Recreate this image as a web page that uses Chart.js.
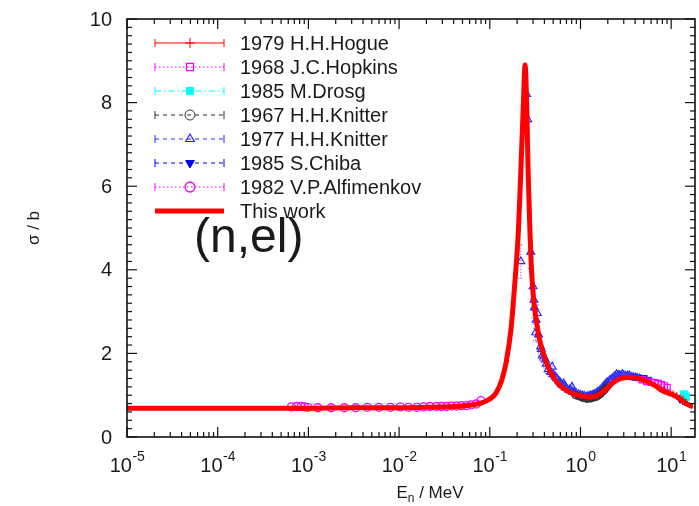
<!DOCTYPE html>
<html>
<head>
<meta charset="utf-8">
<script src="https://cdn.jsdelivr.net/npm/chart.js@4"></script>
<style>
  html, body { margin: 0; padding: 0; background: #fff; }
  #wrap { width: 699px; height: 506px; }
</style>
</head>
<body>
<div id="wrap"><canvas id="chart" width="699" height="506"></canvas></div>
<script>
// neutron energy in MeV, elastic cross section in barn

const thisWorkE = [1e-5, 1e-4, 1e-3, 3e-3, 1e-2, 0.02, 0.04, 0.06, 0.08, 0.1,
    0.117, 0.135, 0.151, 0.171, 0.19, 0.207, 0.222, 0.235, 0.245, 0.255,
    0.265, 0.277, 0.29, 0.307, 0.328, 0.348, 0.38, 0.411, 0.46, 0.528,
    0.62, 0.72, 0.875, 1.05, 1.22, 1.45, 1.7, 2.0, 2.39, 2.9,
    3.63, 4.5, 5.5, 6.53, 7.7, 9.0, 10.8, 13.0, 15.0, 17.4];
const thisWorkSigma = [0.69, 0.69, 0.69, 0.70, 0.70, 0.71, 0.73, 0.76, 0.81, 0.91,
    1.05, 1.35, 1.77, 2.56, 3.76, 4.95, 6.6, 8.0, 8.9, 8.0,
    6.3, 4.95, 3.9, 3.2, 2.75, 2.4, 2.08, 1.84, 1.58, 1.36,
    1.2, 1.1, 1.02, 0.98, 0.96, 0.98, 1.05, 1.18, 1.33, 1.41,
    1.43, 1.39, 1.32, 1.24, 1.13, 1.06, 1.0, 0.88, 0.79, 0.72];

const hogueE = [7.5, 8.5, 9.5, 10.5, 11.5, 12.5, 13.5];
const hogueSigma = [1.18, 1.12, 1.06, 1.02, 0.98, 0.93, 0.9];

const hopkinsE = [4.8, 5.4, 6.0, 6.6, 7.2, 7.8, 8.4, 9.0];
const hopkinsSigma = [1.37, 1.33, 1.31, 1.3, 1.28, 1.25, 1.22, 1.18];

const drosgE = [13.9, 14.6];
const drosgSigma = [1.02, 0.96];

const knitter67E = [0.88, 0.9, 0.95, 0.98, 1.0, 1.05, 1.08, 1.1, 1.15, 1.18,
    1.2, 1.25, 1.28, 1.3, 1.35, 1.4, 1.45, 1.5, 1.55, 1.6,
    1.65, 1.7, 1.75, 1.8, 1.85, 1.9, 1.95, 2.0];
const knitter67Sigma = [1.0, 0.99, 0.98, 0.97, 0.96, 0.94, 0.93, 0.93, 0.92, 0.91,
    0.92, 0.93, 0.92, 0.92, 0.93, 0.95, 0.95, 0.96, 0.98, 1.0,
    1.02, 1.05, 1.08, 1.1, 1.13, 1.16, 1.19, 1.22];

const knitter77E = [0.220, 0.283, 0.255, 0.262, 0.30, 0.307, 0.31, 0.325, 0.334, 0.320,
    0.345, 0.363, 0.37, 0.38, 0.394, 0.41, 0.42, 0.44, 0.47, 0.487,
    0.5, 0.528, 0.55, 0.58, 0.6, 0.62, 0.652, 0.66, 0.68, 0.7,
    0.75, 0.78, 0.805, 0.82, 0.85, 0.9, 0.95, 1.0, 1.05, 1.1,
    1.15, 1.2, 1.25, 1.3, 1.35, 1.4, 1.45, 1.5, 1.55, 1.6,
    1.65, 1.7, 1.75, 1.8, 1.85, 1.9, 1.95, 2.0, 2.1, 2.2,
    2.3, 2.4, 2.5, 2.6, 2.7, 2.8, 2.9, 3.0, 3.15, 3.3,
    3.45, 3.6, 3.8, 4.0, 4.2, 4.5];
const knitter77Sigma = [4.2, 4.43, 8.2, 7.6, 3.6, 3.28, 3.1, 2.8, 2.96, 2.5,
    2.45, 2.16, 2.1, 1.95, 1.92, 1.85, 1.75, 1.62, 1.55, 1.68,
    1.5, 1.44, 1.4, 1.33, 1.3, 1.25, 1.28, 1.22, 1.18, 1.17,
    1.12, 1.12, 1.2, 1.08, 1.07, 1.04, 1.02, 1.0, 0.99, 0.98,
    0.96, 0.97, 0.98, 0.99, 1.0, 1.01, 1.03, 1.04, 1.08, 1.08,
    1.12, 1.13, 1.18, 1.2, 1.24, 1.26, 1.3, 1.3, 1.36, 1.38,
    1.42, 1.45, 1.5, 1.48, 1.47, 1.47, 1.5, 1.47, 1.46, 1.46,
    1.47, 1.44, 1.43, 1.42, 1.41, 1.4];
const knitter77Err = [0.4, 0.4, 0.5, 0.55, 0.3, 0.25, 0.25, 0.2, 0.2, 0.2,
    0.18, 0.15, 0.15, 0.12, 0.12, 0.12, 0.1, 0.1, 0.1, 0.1,
    0.08, 0.08, 0.07, 0.07, 0.06, 0.06, 0.06, 0.06, 0.05, 0.05,
    0.05, 0.05, 0.05, 0.05, 0.04, 0.04, 0.04, 0.04, 0.04, 0.04,
    0.04, 0.04, 0.04, 0.04, 0.04, 0.04, 0.04, 0.04, 0.04, 0.04,
    0.04, 0.04, 0.05, 0.05, 0.05, 0.05, 0.05, 0.05, 0.05, 0.05,
    0.05, 0.05, 0.05, 0.05, 0.05, 0.05, 0.05, 0.05, 0.05, 0.05,
    0.05, 0.05, 0.05, 0.05, 0.05, 0.05];

const chibaE = [3.9, 4.4, 5.0, 5.6, 12.5, 13.5, 14.2];
const chibaSigma = [1.45, 1.43, 1.42, 1.38, 0.9, 0.86, 0.84];

const alfimenkovE = [6.5e-4, 7.4e-4, 8.3e-4, 9.1e-4, 9.9e-4, 1.27e-3, 1.78e-3, 2.49e-3, 3.33e-3, 4.47e-3,
    6.0e-3, 8.0e-3, 1.03e-2, 1.27e-2, 1.57e-2, 1.86e-2, 2.19e-2, 2.59e-2, 2.94e-2, 3.34e-2,
    3.79e-2, 4.3e-2, 4.87e-2, 5.52e-2, 6.25e-2, 7.1e-2, 8.0e-2];
const alfimenkovSigma = [0.72, 0.73, 0.73, 0.72, 0.71, 0.70, 0.70, 0.70, 0.70, 0.71,
    0.71, 0.71, 0.72, 0.71, 0.71, 0.72, 0.73, 0.73, 0.73, 0.73,
    0.74, 0.74, 0.75, 0.75, 0.77, 0.79, 0.87];

const xDecades = [-5, -4, -3, -2, -1, 0, 1];
const yTickLabels = [0, 2, 4, 6, 8, 10];

const FONT = '"Liberation Sans", Arial, sans-serif';
const INK = '#1a1a1a';

const pts = (xs, ys) => xs.map((e, i) => ({ x: e, y: ys[i] }));
const clear = 'rgba(0,0,0,0)';

const datasets = [
    {
        label: 'This work', data: pts(thisWorkE, thisWorkSigma), showLine: true,
        borderColor: '#ff0000', borderWidth: 5, pointRadius: 0,
        cubicInterpolationMode: 'monotone', order: 0,
        legendDash: [], legendWidth: 5
    },
    {
        label: '1979 H.H.Hogue', data: pts(hogueE, hogueSigma),
        pointStyle: 'cross', pointRadius: 4, borderColor: '#ff0000', borderWidth: 1,
        backgroundColor: clear, order: 1, legendDash: []
    },
    {
        label: '1968 J.C.Hopkins', data: pts(hopkinsE, hopkinsSigma),
        pointStyle: 'rect', pointRadius: 4.5, borderColor: '#ff00ff', borderWidth: 1.2,
        backgroundColor: clear, order: 1, legendDash: [1.5, 2.5]
    },
    {
        label: '1985 M.Drosg', data: pts(drosgE, drosgSigma),
        pointStyle: 'rect', pointRadius: 5, borderColor: '#00ffff', borderWidth: 1,
        backgroundColor: '#00ffff', order: 1, legendDash: [6, 3, 1.5, 3]
    },
    {
        label: '1967 H.H.Knitter', data: pts(knitter67E, knitter67Sigma),
        pointStyle: 'circle', pointRadius: 3.5, borderColor: '#303030', borderWidth: 1,
        backgroundColor: clear, order: 1, legendDash: [4, 4]
    },
    {
        label: '1977 H.H.Knitter', data: pts(knitter77E, knitter77Sigma), errors: knitter77Err,
        pointStyle: 'triangle', pointRadius: 4.5, borderColor: '#2a2aff', borderWidth: 1.2,
        backgroundColor: clear, order: 1, legendDash: [4, 4]
    },
    {
        label: '1985 S.Chiba', data: pts(chibaE, chibaSigma),
        pointStyle: 'triangle', rotation: 180, pointRadius: 4, borderColor: '#0000ee', borderWidth: 1,
        backgroundColor: '#0000ee', order: 1, legendDash: [4, 4]
    },
    {
        label: '1982 V.P.Alfimenkov', data: pts(alfimenkovE, alfimenkovSigma),
        pointStyle: 'circle', pointRadius: 4, borderColor: '#ff00ff', borderWidth: 1.3,
        backgroundColor: clear, order: 1, legendDash: [1.5, 2.5]
    }
];

// legend rows, top to bottom
const legendOrder = ['1979 H.H.Hogue', '1968 J.C.Hopkins', '1985 M.Drosg', '1967 H.H.Knitter',
    '1977 H.H.Knitter', '1985 S.Chiba', '1982 V.P.Alfimenkov', 'This work'];

function line(ctx, x1, y1, x2, y2) {
    ctx.beginPath();
    ctx.moveTo(x1, y1);
    ctx.lineTo(x2, y2);
    ctx.stroke();
}

// vertical error bars, drawn right after their own dataset
const errorBars = {
    id: 'errorBars',
    afterDatasetDraw(chart, args) {
        const ds = chart.data.datasets[args.index];
        if (!ds.errors) return;
        const { ctx, chartArea: a, scales: { y } } = chart;
        ctx.save();
        ctx.beginPath();
        ctx.rect(a.left, a.top, a.right - a.left, a.bottom - a.top);
        ctx.clip();
        ctx.strokeStyle = 'rgba(60,60,255,0.75)';
        ctx.lineWidth = 1;
        ctx.setLineDash([1.5, 1.5]);
        args.meta.data.forEach((p, i) => {
            const v = ds.data[i].y, e = ds.errors[i];
            const top = y.getPixelForValue(v + e), bot = y.getPixelForValue(v - e);
            if (bot - top < 4) return;
            line(ctx, p.x, top, p.x, bot);
            line(ctx, p.x - 3, top, p.x + 3, top);
            line(ctx, p.x - 3, bot, p.x + 3, bot);
        });
        ctx.restore();
    }
};

const frame = {
    id: 'frame',
    afterDraw(chart) {
        const { ctx, chartArea: a, scales: { x, y } } = chart;
        const R = a.right + 2;
        ctx.save();
        ctx.strokeStyle = '#111';
        ctx.lineWidth = 1.6;
        ctx.strokeRect(a.left, a.top, R - a.left, a.bottom - a.top);

        // y ticks: minor every 0.2, major every 2, on both sides
        ctx.lineWidth = 1.2;
        for (let k = 0; k <= 50; k++) {
            const py = y.getPixelForValue(k / 5);
            const len = k % 10 === 0 ? 10 : 5;
            line(ctx, a.left, py, a.left + len, py);
            line(ctx, R - len, py, R, py);
        }
        // x ticks: decades and 2..9 in between, bottom and top
        xDecades.forEach(d => {
            for (let m = 1; m <= 9; m++) {
                const v = m * Math.pow(10, d);
                if (v > x.max) break;
                const px = x.getPixelForValue(v);
                const len = m === 1 ? 10 : 5;
                line(ctx, px, a.bottom, px, a.bottom - len);
                line(ctx, px, a.top, px, a.top + len);
            }
        });

        ctx.fillStyle = INK;
        // y tick labels
        ctx.font = '20px ' + FONT;
        ctx.textAlign = 'right';
        ctx.textBaseline = 'middle';
        yTickLabels.forEach(v => ctx.fillText(String(v), a.left - 15, y.getPixelForValue(v) + 1));

        // x tick labels as 10 with raised exponent
        ctx.textBaseline = 'alphabetic';
        ctx.textAlign = 'left';
        xDecades.forEach(d => {
            const px = x.getPixelForValue(Math.pow(10, d));
            ctx.font = '20px ' + FONT;
            const wBase = ctx.measureText('10').width;
            ctx.font = '14px ' + FONT;
            const exp = String(d);
            const wExp = ctx.measureText(exp).width;
            const x0 = px - (wBase + wExp) / 2;
            ctx.font = '20px ' + FONT;
            ctx.fillText('10', x0, a.bottom + 35);
            ctx.font = '14px ' + FONT;
            ctx.fillText(exp, x0 + wBase + 0.5, a.bottom + 24);
        });

        // x axis title with subscript
        ctx.font = '17px ' + FONT;
        const t1 = 'E', t3 = ' / MeV';
        const w1 = ctx.measureText(t1).width, w3 = ctx.measureText(t3).width;
        ctx.font = '12px ' + FONT;
        const w2 = ctx.measureText('n').width;
        let tx = 430 - (w1 + w2 + w3) / 2;
        const ty = 498;
        ctx.font = '17px ' + FONT;
        ctx.fillText(t1, tx, ty);
        ctx.font = '12px ' + FONT;
        ctx.fillText('n', tx + w1, ty + 4);
        ctx.font = '17px ' + FONT;
        ctx.fillText(t3, tx + w1 + w2, ty);

        // y axis title
        ctx.save();
        ctx.translate(34, (a.top + a.bottom) / 2);
        ctx.rotate(-Math.PI / 2);
        ctx.textAlign = 'center';
        ctx.textBaseline = 'middle';
        ctx.font = '17px ' + FONT;
        ctx.fillText('σ / b', 0, 0);
        ctx.restore();

        // reaction label
        ctx.font = '48px ' + FONT;
        ctx.textAlign = 'left';
        ctx.fillText('(n,el)', 194, 252);

        // legend
        const lx1 = 155, lx2 = 224, lmid = 190;
        legendOrder.forEach((name, i) => {
            const ds = chart.data.datasets.find(d => d.label === name);
            const ly = 43 + i * 24;
            ctx.strokeStyle = ds.borderColor;
            ctx.lineWidth = ds.legendWidth || 1;
            ctx.setLineDash(ds.legendDash);
            line(ctx, lx1, ly, lx2, ly);
            ctx.setLineDash([]);
            if (!ds.legendWidth) {
                ctx.lineWidth = 1;
                line(ctx, lx1, ly - 4, lx1, ly + 4);
                line(ctx, lx2, ly - 4, lx2, ly + 4);
                ctx.fillStyle = ds.backgroundColor;
                ctx.lineWidth = ds.borderWidth;
                Chart.helpers.drawPoint(ctx, {
                    pointStyle: ds.pointStyle, rotation: ds.rotation || 0,
                    radius: 5, borderWidth: ds.borderWidth
                }, lmid, ly);
            }
            ctx.fillStyle = INK;
            ctx.font = '20px ' + FONT;
            ctx.textAlign = 'left';
            ctx.textBaseline = 'middle';
            ctx.fillText(name, 240, ly + 1);
        });
        ctx.restore();
    }
};

new Chart(document.getElementById('chart'), {
    type: 'scatter',
    data: { datasets },
    options: {
        responsive: false,
        devicePixelRatio: 1,
        animation: false,
        layout: { padding: { left: 127, top: 19, right: 0, bottom: 69 } },
        plugins: { legend: { display: false }, tooltip: { enabled: false } },
        elements: { point: { hoverRadius: 0 } },
        scales: {
            x: { type: 'logarithmic', min: 1e-5, max: 17.4, display: false },
            y: { type: 'linear', min: 0, max: 10, display: false }
        }
    },
    plugins: [errorBars, frame]
});
</script>
</body>
</html>
